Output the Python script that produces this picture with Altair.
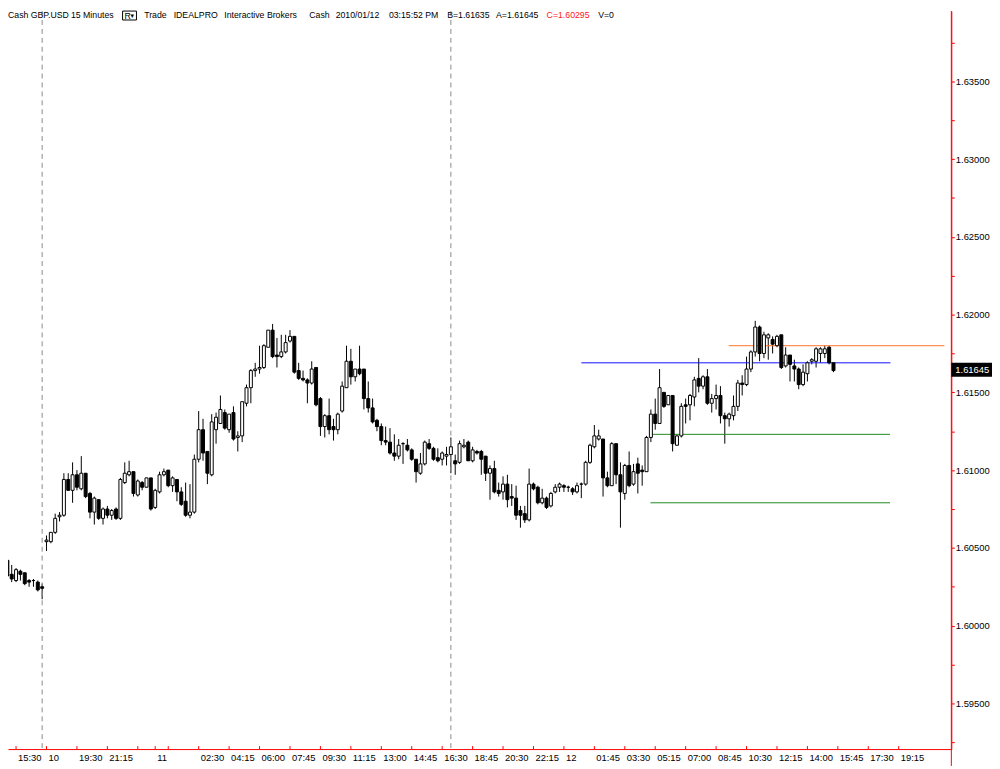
import altair as alt
import pandas as pd

# ---------------- data (GBP.USD 15-minute bars) ----------------
opens = [
    1.6042, 1.6033, 1.6029, 1.6035, 1.6034, 1.6029, 1.6029, 1.6028, 1.6025, 1.6054,
    1.6054, 1.6060, 1.6070, 1.6071, 1.6094, 1.6087, 1.6097, 1.6088, 1.6098, 1.6085,
    1.6073, 1.6081, 1.6069, 1.6075, 1.6071, 1.6075, 1.6069, 1.6092, 1.6097, 1.6099,
    1.6084, 1.6092, 1.6089, 1.6095, 1.6076, 1.6086, 1.6097, 1.6100, 1.6090, 1.6094,
    1.6086, 1.6080, 1.6071, 1.6073, 1.6107, 1.6126, 1.6112, 1.6097, 1.6126, 1.6130,
    1.6137, 1.6126, 1.6137, 1.6121, 1.6122, 1.6143, 1.6153, 1.6164, 1.6165, 1.6166,
    1.6179, 1.6190, 1.6174, 1.6173, 1.6176, 1.6183, 1.6186, 1.6164, 1.6159, 1.6158,
    1.6156, 1.6166, 1.6146, 1.6128, 1.6135, 1.6128, 1.6126, 1.6138, 1.6153, 1.6170,
    1.6160, 1.6165, 1.6165, 1.6146, 1.6140, 1.6132, 1.6128, 1.6119, 1.6118, 1.6111,
    1.6109, 1.6117, 1.6116, 1.6113, 1.6107, 1.6098, 1.6104, 1.6117, 1.6114, 1.6108,
    1.6107, 1.6109, 1.6110, 1.6106, 1.6105, 1.6115, 1.6118, 1.6106, 1.6112, 1.6112,
    1.6109, 1.6098, 1.6101, 1.6087, 1.6086, 1.6091, 1.6083, 1.6082, 1.6074, 1.6072,
    1.6068, 1.6091, 1.6089, 1.6079, 1.6082, 1.6077, 1.6086, 1.6089, 1.6090, 1.6089,
    1.6088, 1.6086, 1.6091, 1.6091, 1.6105, 1.6115, 1.6120, 1.6120, 1.6095, 1.6090,
    1.6117, 1.6097, 1.6085, 1.6103, 1.6091, 1.6104, 1.6100, 1.6099, 1.6121, 1.6136,
    1.6130, 1.6150, 1.6142, 1.6148, 1.6116, 1.6122, 1.6142, 1.6142, 1.6147, 1.6159,
    1.6154, 1.6160, 1.6143, 1.6146, 1.6148, 1.6135, 1.6133, 1.6135, 1.6141, 1.6156,
    1.6155, 1.6165, 1.6176, 1.6192, 1.6175, 1.6185, 1.6184, 1.6180, 1.6187, 1.6167,
    1.6174, 1.6167, 1.6165, 1.6155, 1.6162, 1.6170, 1.6170, 1.6175, 1.6175, 1.6179,
    1.6169,
]
highs = [
    1.6043, 1.6039, 1.6037, 1.6036, 1.6034, 1.6030, 1.6030, 1.6029, 1.6027, 1.6058,
    1.6060, 1.6072, 1.6073, 1.6098, 1.6098, 1.6105, 1.6100, 1.6109, 1.6098, 1.6086,
    1.6083, 1.6081, 1.6076, 1.6077, 1.6075, 1.6076, 1.6095, 1.6105, 1.6106, 1.6099,
    1.6094, 1.6093, 1.6095, 1.6095, 1.6088, 1.6099, 1.6101, 1.6100, 1.6096, 1.6094,
    1.6089, 1.6092, 1.6091, 1.6110, 1.6138, 1.6133, 1.6112, 1.6136, 1.6137, 1.6148,
    1.6139, 1.6136, 1.6141, 1.6125, 1.6144, 1.6155, 1.6165, 1.6169, 1.6180, 1.6181,
    1.6190, 1.6194, 1.6185, 1.6187, 1.6187, 1.6190, 1.6186, 1.6169, 1.6164, 1.6159,
    1.6170, 1.6166, 1.6147, 1.6136, 1.6146, 1.6133, 1.6137, 1.6157, 1.6180, 1.6178,
    1.6165, 1.6180, 1.6165, 1.6157, 1.6146, 1.6133, 1.6130, 1.6128, 1.6127, 1.6123,
    1.6120, 1.6118, 1.6120, 1.6114, 1.6107, 1.6111, 1.6119, 1.6120, 1.6115, 1.6114,
    1.6112, 1.6115, 1.6121, 1.6110, 1.6119, 1.6120, 1.6119, 1.6115, 1.6113, 1.6113,
    1.6109, 1.6103, 1.6106, 1.6092, 1.6096, 1.6097, 1.6091, 1.6090, 1.6077, 1.6077,
    1.6101, 1.6092, 1.6090, 1.6088, 1.6083, 1.6086, 1.6091, 1.6092, 1.6091, 1.6090,
    1.6089, 1.6092, 1.6092, 1.6106, 1.6117, 1.6129, 1.6126, 1.6120, 1.6099, 1.6118,
    1.6117, 1.6105, 1.6104, 1.6112, 1.6104, 1.6108, 1.6103, 1.6122, 1.6139, 1.6146,
    1.6165, 1.6150, 1.6148, 1.6148, 1.6123, 1.6143, 1.6146, 1.6149, 1.6160, 1.6172,
    1.6161, 1.6165, 1.6149, 1.6155, 1.6154, 1.6137, 1.6137, 1.6148, 1.6158, 1.6161,
    1.6173, 1.6177, 1.6196, 1.6193, 1.6189, 1.6188, 1.6186, 1.6187, 1.6187, 1.6179,
    1.6174, 1.6171, 1.6166, 1.6168, 1.6170, 1.6172, 1.6179, 1.6179, 1.6180, 1.6180,
    1.6169,
]
lows = [
    1.6026, 1.6028, 1.6028, 1.6029, 1.6026, 1.6025, 1.6025, 1.6022, 1.6017, 1.6048,
    1.6053, 1.6059, 1.6067, 1.6070, 1.6087, 1.6079, 1.6087, 1.6087, 1.6082, 1.6069,
    1.6065, 1.6068, 1.6065, 1.6069, 1.6068, 1.6068, 1.6068, 1.6091, 1.6096, 1.6083,
    1.6083, 1.6087, 1.6089, 1.6074, 1.6075, 1.6085, 1.6096, 1.6089, 1.6086, 1.6080,
    1.6077, 1.6070, 1.6069, 1.6072, 1.6105, 1.6106, 1.6091, 1.6096, 1.6117, 1.6130,
    1.6126, 1.6124, 1.6119, 1.6112, 1.6118, 1.6141, 1.6143, 1.6160, 1.6162, 1.6165,
    1.6179, 1.6172, 1.6166, 1.6172, 1.6175, 1.6182, 1.6162, 1.6158, 1.6157, 1.6143,
    1.6155, 1.6141, 1.6122, 1.6121, 1.6123, 1.6119, 1.6123, 1.6137, 1.6153, 1.6155,
    1.6157, 1.6161, 1.6139, 1.6137, 1.6130, 1.6125, 1.6116, 1.6116, 1.6110, 1.6106,
    1.6107, 1.6104, 1.6112, 1.6106, 1.6092, 1.6097, 1.6103, 1.6113, 1.6106, 1.6105,
    1.6103, 1.6103, 1.6098, 1.6097, 1.6104, 1.6114, 1.6106, 1.6105, 1.6110, 1.6097,
    1.6093, 1.6081, 1.6085, 1.6083, 1.6081, 1.6076, 1.6077, 1.6068, 1.6063, 1.6066,
    1.6067, 1.6087, 1.6078, 1.6078, 1.6075, 1.6076, 1.6085, 1.6086, 1.6086, 1.6086,
    1.6084, 1.6085, 1.6082, 1.6090, 1.6104, 1.6114, 1.6119, 1.6083, 1.6089, 1.6090,
    1.6091, 1.6063, 1.6081, 1.6089, 1.6090, 1.6085, 1.6090, 1.6099, 1.6118, 1.6126,
    1.6130, 1.6140, 1.6142, 1.6112, 1.6116, 1.6121, 1.6130, 1.6132, 1.6141, 1.6150,
    1.6152, 1.6142, 1.6137, 1.6139, 1.6130, 1.6117, 1.6128, 1.6132, 1.6138, 1.6148,
    1.6154, 1.6163, 1.6173, 1.6170, 1.6172, 1.6171, 1.6175, 1.6179, 1.6165, 1.6166,
    1.6157, 1.6157, 1.6152, 1.6154, 1.6157, 1.6168, 1.6166, 1.6169, 1.6172, 1.6168,
    1.6163,
]
closes = [
    1.6032, 1.6030, 1.6036, 1.6033, 1.6027, 1.6028, 1.6029, 1.6023, 1.6024, 1.6055,
    1.6060, 1.6069, 1.6071, 1.6094, 1.6087, 1.6097, 1.6089, 1.6098, 1.6083, 1.6073,
    1.6082, 1.6069, 1.6075, 1.6071, 1.6074, 1.6069, 1.6094, 1.6098, 1.6099, 1.6085,
    1.6093, 1.6089, 1.6095, 1.6075, 1.6087, 1.6097, 1.6099, 1.6090, 1.6095, 1.6086,
    1.6078, 1.6071, 1.6073, 1.6107, 1.6126, 1.6111, 1.6098, 1.6131, 1.6134, 1.6139,
    1.6127, 1.6136, 1.6120, 1.6122, 1.6144, 1.6153, 1.6164, 1.6165, 1.6166, 1.6180,
    1.6190, 1.6173, 1.6173, 1.6176, 1.6182, 1.6186, 1.6163, 1.6159, 1.6158, 1.6156,
    1.6165, 1.6142, 1.6128, 1.6135, 1.6126, 1.6126, 1.6136, 1.6154, 1.6170, 1.6160,
    1.6165, 1.6162, 1.6146, 1.6140, 1.6131, 1.6128, 1.6119, 1.6118, 1.6111, 1.6109,
    1.6116, 1.6117, 1.6113, 1.6107, 1.6099, 1.6104, 1.6118, 1.6114, 1.6107, 1.6106,
    1.6111, 1.6110, 1.6115, 1.6104, 1.6117, 1.6116, 1.6106, 1.6113, 1.6111, 1.6107,
    1.6098, 1.6101, 1.6086, 1.6085, 1.6091, 1.6081, 1.6082, 1.6071, 1.6071, 1.6068,
    1.6091, 1.6088, 1.6079, 1.6082, 1.6076, 1.6085, 1.6089, 1.6091, 1.6089, 1.6089,
    1.6086, 1.6090, 1.6091, 1.6105, 1.6116, 1.6122, 1.6122, 1.6095, 1.6090, 1.6117,
    1.6097, 1.6086, 1.6103, 1.6090, 1.6099, 1.6098, 1.6099, 1.6121, 1.6136, 1.6130,
    1.6153, 1.6141, 1.6148, 1.6117, 1.6122, 1.6141, 1.6141, 1.6148, 1.6158, 1.6154,
    1.6160, 1.6143, 1.6146, 1.6148, 1.6135, 1.6133, 1.6136, 1.6141, 1.6156, 1.6155,
    1.6165, 1.6176, 1.6192, 1.6175, 1.6187, 1.6187, 1.6181, 1.6186, 1.6166, 1.6174,
    1.6168, 1.6165, 1.6155, 1.6163, 1.6169, 1.6171, 1.6178, 1.6178, 1.6178, 1.6169,
    1.6164,
]

# time axis: bar index of each tick and its label
tick_bars = [2, 9, 16, 23, 30, 34, 37, 44, 51, 58, 65, 72, 79, 86, 93, 100, 107,
             114, 121, 128, 135, 142, 149, 156, 163, 170, 177, 184, 191, 198, 205]
tick_labels = ["15:30", "10", "19:30", "21:15", "", "11", "", "02:30", "04:15",
               "06:00", "07:45", "09:30", "11:15", "13:00", "14:45", "16:30",
               "18:45", "20:30", "22:15", "12", "01:45", "03:30", "05:15",
               "07:00", "08:45", "10:30", "12:15", "14:00", "15:45", "17:30",
               "19:15"]

# session separators (bar index)
day_breaks = [8, 102]

# horizontal level lines
level_prices = [1.6180, 1.6169, 1.6123, 1.6079]
level_from = [165.9, 132.0, 147.9, 147.9]
level_to = [215.5, 203.1, 203.0, 203.0]
level_colors = ["#ff7328", "#1010ff", "#208a20", "#208a20"]

# price axis ticks (labels every 0.005, minor ticks in between)
price_ticks = [1.5925, 1.5950, 1.5975, 1.6000, 1.6025, 1.6050, 1.6075, 1.6100,
               1.6125, 1.6150, 1.6175, 1.6200, 1.6225, 1.6250, 1.6275, 1.6300,
               1.6325, 1.6350, 1.6375]
last_price = 1.61645

header_texts = ["Cash GBP.USD", "15 Minutes", "Trade", "IDEALPRO",
                "Interactive Brokers", "Cash", "2010/01/12", "03:15:52 PM",
                "B=1.61635", "A=1.61645", "C=1.60295", "V=0"]
header_colors = ["black"] * 10 + ["#ff2020", "black"]

# ---------------- layout ----------------
W, H = 951, 744
FONT = "Liberation Sans"
FS = 9.5
HFS = 8.8
RED = "#ff0000"
header_x = [0, 63.5, 137.3, 167.0, 218.0, 303.7, 330.3, 384.0, 442.7, 492.0,
            543.0, 595.0]
HEADER_Y = 4

xs = alt.Scale(domain=[1.2867, 215.96], nice=False, zero=False)
ys = alt.Scale(domain=[1.592064, 1.639517], nice=False, zero=False)

x_axis = alt.Axis(values=tick_bars, labels=False, title=None, grid=False,
                  ticks=False, domainColor=RED, domainWidth=1, orient="bottom")
y_axis = alt.Axis(values=price_ticks, orient="right", title=None, grid=False,
                  labelExpr="round(datum.value*10000) % 50 == 0 ? format(datum.value, '.5f') : ''",
                  domainColor=RED, domainWidth=1, tickColor=RED, tickSize=3,
                  labelPadding=1, labelFont=FONT, labelFontSize=FS,
                  labelColor="black", labelFlush=False, labelOverlap=False)

candles = pd.DataFrame({"bar": list(range(len(opens))), "open": opens,
                        "high": highs, "low": lows, "close": closes})
levels = pd.DataFrame({"price": level_prices, "x0": level_from, "x1": level_to,
                       "color": level_colors})
ticks_df = pd.DataFrame({"bar": tick_bars, "label": tick_labels})
one = pd.DataFrame({"a": [0]})

base = alt.Chart(candles)
wicks = base.mark_rule(color="black", strokeWidth=1, clip=True).encode(
    x=alt.X("bar:Q", scale=xs, axis=x_axis),
    y=alt.Y("low:Q", scale=ys, axis=y_axis),
    y2="high:Q",
)
bodies = base.mark_bar(size=3, stroke="black", strokeWidth=1, clip=True).encode(
    x=alt.X("bar:Q", scale=xs),
    y=alt.Y("open:Q", scale=ys),
    y2="close:Q",
    fill=alt.condition("datum.close >= datum.open", alt.value("white"),
                       alt.value("black")),
)

seps = alt.Chart(pd.DataFrame({"bar": day_breaks})).mark_rule(
    color="#8a8a8a", strokeWidth=1, strokeDash=[5, 4]
).encode(x=alt.X("bar:Q", scale=xs))

level_rules = alt.Chart(levels).mark_rule(strokeWidth=1).encode(
    x=alt.X("x0:Q", scale=xs), x2="x1:Q",
    y=alt.Y("price:Q", scale=ys),
    color=alt.Color("color:N", scale=None),
)

xticks = alt.Chart(ticks_df).mark_rule(color=RED, strokeWidth=1).encode(
    x=alt.X("bar:Q", scale=xs), y=alt.value(H), y2=alt.value(H - 3)
)
xlabels = alt.Chart(ticks_df).mark_text(
    align="left", baseline="middle", dx=2, font=FONT, fontSize=FS, color="black"
).encode(x=alt.X("bar:Q", scale=xs), y=alt.value(H + 9), text="label:N")

right_line = alt.Chart(one).mark_rule(color=RED, strokeWidth=1).encode(
    x=alt.value(W), y=alt.value(0), y2=alt.value(H + 17)
)

tag_df = pd.DataFrame({"p": [last_price], "label": [f"{last_price:.5f}"]})
tag_box = alt.Chart(tag_df).mark_tick(
    orient="horizontal", thickness=14, size=41, color="black", opacity=1
).encode(x=alt.value(W + 20.5), y=alt.Y("p:Q", scale=ys))
tag_text = alt.Chart(tag_df).mark_text(
    align="left", baseline="middle", color="white", font=FONT, fontSize=FS
).encode(x=alt.value(W + 4), y=alt.Y("p:Q", scale=ys), text="label:N")

header_layers = []
for txt, hx, col in zip(header_texts, header_x, header_colors):
    header_layers.append(
        alt.Chart(pd.DataFrame({"t": [txt]})).mark_text(
            align="left", baseline="middle", font=FONT, fontSize=HFS, color=col
        ).encode(x=alt.value(hx), y=alt.value(HEADER_Y), text="t:N")
    )
r_box = alt.Chart(one).mark_rect(fill="white", stroke="black", strokeWidth=1).encode(
    x=alt.value(115.5), x2=alt.value(129.5), y=alt.value(0), y2=alt.value(9)
)
r_txt = alt.Chart(pd.DataFrame({"t": ["R"]})).mark_text(
    align="left", baseline="middle", font=FONT, fontSize=HFS, color="black"
).encode(x=alt.value(117.5), y=alt.value(HEADER_Y + 0.5), text="t:N")
r_arrow = alt.Chart(pd.DataFrame({"t": ["▾"]})).mark_text(
    align="left", baseline="middle", font="DejaVu Sans", fontSize=7, color="black"
).encode(x=alt.value(123.5), y=alt.value(HEADER_Y + 0.5), text="t:N")

chart = alt.layer(
    wicks, seps, level_rules, bodies, xticks, xlabels, right_line, tag_box,
    tag_text, *header_layers, r_box, r_txt, r_arrow
).properties(
    width=W, height=H,
    autosize=alt.AutoSizeParams(type="none"),
    padding={"left": 0, "top": 0, "right": 41, "bottom": 17},
).configure(background="white").configure_view(stroke=None)

chart.save("out.html", embed_options={"renderer": "svg", "actions": False})
